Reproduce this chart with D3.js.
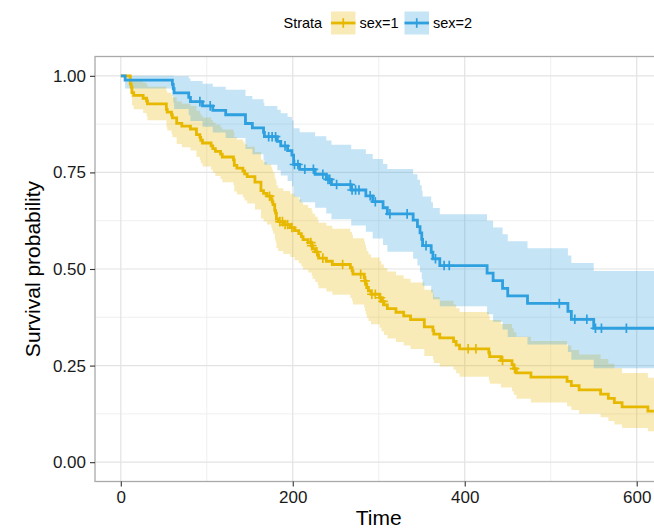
<!DOCTYPE html>
<html>
<head>
<meta charset="utf-8">
<script src="https://cdn.jsdelivr.net/npm/d3@7"></script>
<style>
  html, body { margin: 0; padding: 0; background: #ffffff; }
  svg { display: block; }
  text { font-family: "Liberation Sans", Arial, Helvetica, sans-serif; }
</style>
</head>
<body>
<div id="chart"></div>
<script>
// Kaplan-Meier estimates by sex (time in days), with 95% confidence limits
const maleTime = [0, 11, 12, 13, 15, 26, 30, 31, 53, 54, 59, 60, 65, 71, 81, 88, 92, 93, 95, 105,
  107, 110, 116, 118, 131, 132, 135, 142, 144, 147, 156, 163, 166, 170, 175, 176, 177, 179, 180, 181,
  183, 189, 197, 202, 207, 210, 212, 218, 222, 223, 226, 229, 230, 239, 246, 267, 269, 270, 283, 284,
  285, 286, 288, 291, 301, 303, 306, 310, 320, 329, 337, 353, 363, 364, 371, 387, 390, 394, 428, 429,
  442, 455, 457, 460, 477, 519, 524, 533, 558, 567, 574, 583, 613, 624];
const maleSurv = [1, .9783, .9710, .9565, .9493, .9420, .9348, .9275, .9130, .9058, .8986, .8913, .8768, .8696, .8623, .8478, .8406, .8333, .8261, .8188,
  .8116, .8043, .7971, .7899, .7826, .7681, .7609, .7536, .7464, .7391, .7246, .7029, .6957, .6884, .6811, .6738, .6664, .6518, .6445, .6298,
  .6225, .6150, .6073, .5995, .5917, .5840, .5762, .5684, .5605, .5525, .5445, .5364, .5282, .5200, .5117, .5033, .4949, .4865, .4780, .4695,
  .4608, .4521, .4434, .4347, .4256, .4164, .4069, .3975, .3880, .3785, .3691, .3501, .3407, .3312, .3218, .3123, .3028, .2934, .2833, .2732,
  .2630, .2525, .2420, .2310, .2200, .2090, .1980, .1870, .1760, .1650, .1540, .1430, .1320, .1210];
const maleLower = [1, .9542, .9434, .9231, .9134, .9038, .8945, .8853, .8672, .8583, .8496, .8408, .8236, .8152, .8067, .7900, .7817, .7734, .7652, .7570,
  .7489, .7408, .7328, .7247, .7167, .7008, .6929, .6851, .6772, .6694, .6538, .6306, .6230, .6153, .6076, .5999, .5922, .5769, .5693, .5541,
  .5466, .5388, .5309, .5228, .5148, .5068, .4989, .4909, .4829, .4747, .4666, .4583, .4501, .4418, .4335, .4250, .4166, .4082, .3997, .3912,
  .3826, .3740, .3654, .3569, .3479, .3388, .3295, .3202, .3110, .3019, .2927, .2746, .2656, .2567, .2478, .2390, .2302, .2214, .2120, .2027,
  .1935, .1838, .1743, .1643, .1544, .1447, .1350, .1255, .1161, .1068, .0976, .0886, .0798, .0711];
const maleUpper = [1, 1, .9994, .9912, .9866, .9818, .9769, .9718, .9613, .9559, .9504, .9448, .9334, .9276, .9218, .9099, .9039, .8979, .8918, .8857,
  .8795, .8733, .8671, .8608, .8545, .8419, .8355, .8291, .8226, .8162, .8031, .7834, .7768, .7702, .7635, .7567, .7500, .7364, .7296, .7159,
  .7090, .7020, .6948, .6875, .6802, .6728, .6655, .6581, .6506, .6430, .6354, .6276, .6199, .6120, .6041, .5960, .5880, .5799, .5716, .5634,
  .5550, .5465, .5380, .5295, .5207, .5117, .5025, .4933, .4840, .4747, .4653, .4464, .4369, .4274, .4178, .4081, .3984, .3887, .3784, .3681,
  .3576, .3469, .3360, .3248, .3134, .3019, .2903, .2787, .2668, .2549, .2429, .2307, .2183, .2058];
const maleCensor = [173, 185, 188, 191, 194, 199, 221, 222, 228, 235, 258, 279, 284, 292, 296, 302, 305, 404, 413, 444, 458];

const femaleTime = [0, 5, 60, 61, 62, 79, 81, 95, 107, 122, 145, 153, 166, 167, 182, 186, 194, 199, 201, 208,
  226, 239, 245, 268, 285, 293, 305, 310, 340, 345, 348, 350, 351, 361, 363, 371, 426, 433, 444, 450,
  473, 520, 524, 550];
const femaleSurv = [1, .9889, .9778, .9667, .9556, .9444, .9333, .9221, .9107, .8993, .8766, .8652, .8538, .8424, .8305, .8187, .8066, .7946, .7705, .7581,
  .7452, .7321, .7186, .7045, .6895, .6742, .6585, .6428, .6264, .6099, .5934, .5769, .5604, .5434, .5265, .5089, .4893, .4697, .4501, .4305,
  .4109, .3904, .3698, .3467];
const femaleLower = [1, .9675, .9478, .9303, .9140, .8982, .8832, .8683, .8535, .8390, .8109, .7970, .7834, .7699, .7558, .7420, .7280, .7142, .6869, .6729,
  .6584, .6438, .6287, .6129, .5961, .5791, .5618, .5446, .5267, .5089, .4913, .4738, .4566, .4389, .4215, .4035, .3832, .3632, .3434, .3240,
  .3049, .2849, .2653, .2430];
const femaleUpper = [1, 1, 1, 1, .9991, .9929, .9863, .9792, .9717, .9639, .9477, .9392, .9305, .9217, .9125, .9033, .8937, .8841, .8643, .8541,
  .8434, .8326, .8214, .8098, .7975, .7849, .7719, .7587, .7450, .7310, .7168, .7024, .6878, .6727, .6576, .6419, .6248, .6075, .5899, .5720,
  .5538, .5349, .5155, .4947];
const femaleCensor = [92, 104, 172, 176, 180, 191, 202, 206, 214, 224, 235, 241, 243, 251, 267, 269, 273, 277, 290, 296,
  313, 333, 355, 366, 376, 382, 510, 528, 542, 552, 559, 588];

const strataLabels = ["sex=1", "sex=2"];
const strataColors = ["#E7B800", "#2E9FDF"];
const xTicks = [0, 200, 400, 600];
const xMinor = [100, 300, 500];
const yTicks = [0, 0.25, 0.5, 0.75, 1];
const yMinor = [0.125, 0.375, 0.625, 0.875];
const fmt = d3.format(".2f");

const strata = [
  { label: strataLabels[0], color: strataColors[0], time: maleTime, surv: maleSurv, lower: maleLower, upper: maleUpper, censor: maleCensor },
  { label: strataLabels[1], color: strataColors[1], time: femaleTime, surv: femaleSurv, lower: femaleLower, upper: femaleUpper, censor: femaleCensor }
];

const W = 654, H = 529;
const panel = { left: 95, right: 662.5, top: 56.5, bottom: 481.5 };

const x = d3.scaleLinear().domain([-30, 630]).range([panel.left, panel.right]);
const y = d3.scaleLinear().domain([-0.05, 1.05]).range([panel.bottom, panel.top]);

const svg = d3.select("#chart").append("svg")
  .attr("width", W).attr("height", H)
  .attr("viewBox", `0 0 ${W} ${H}`);

svg.append("defs").append("clipPath").attr("id", "panel-clip")
  .append("rect")
  .attr("x", panel.left).attr("y", panel.top)
  .attr("width", panel.right - panel.left).attr("height", panel.bottom - panel.top);

// grid
const grid = svg.append("g");
grid.selectAll(".vminor").data(xMinor).join("line")
  .attr("x1", d => x(d)).attr("x2", d => x(d))
  .attr("y1", panel.top).attr("y2", panel.bottom)
  .attr("stroke", "#EDEDED").attr("stroke-width", 0.9);
grid.selectAll(".hminor").data(yMinor).join("line")
  .attr("y1", d => y(d)).attr("y2", d => y(d))
  .attr("x1", panel.left).attr("x2", panel.right)
  .attr("stroke", "#EDEDED").attr("stroke-width", 0.9);
grid.selectAll(".vmajor").data(xTicks).join("line")
  .attr("x1", d => x(d)).attr("x2", d => x(d))
  .attr("y1", panel.top).attr("y2", panel.bottom)
  .attr("stroke", "#E3E3E3").attr("stroke-width", 1.2);
grid.selectAll(".hmajor").data(yTicks).join("line")
  .attr("y1", d => y(d)).attr("y2", d => y(d))
  .attr("x1", panel.left).attr("x2", panel.right)
  .attr("stroke", "#E3E3E3").attr("stroke-width", 1.2);

const plot = svg.append("g").attr("clip-path", "url(#panel-clip)");
const tEnd = x.domain()[1];

function rows(s) {
  const r = s.time.map((t, i) => ({ t, s: s.surv[i], lo: s.lower[i], hi: s.upper[i] }));
  const last = r[r.length - 1];
  r.push({ t: tEnd, s: last.s, lo: last.lo, hi: last.hi });
  return r;
}

const band = d3.area().curve(d3.curveStepAfter)
  .x(d => x(d.t)).y0(d => y(d.lo)).y1(d => y(d.hi));
const step = d3.line().curve(d3.curveStepAfter)
  .x(d => x(d.t)).y(d => y(d.s));

// confidence bands
strata.forEach(s => {
  plot.append("path").datum(rows(s))
    .attr("d", band)
    .attr("fill", s.color).attr("fill-opacity", 0.28).attr("stroke", "none");
});

// survival curves
strata.forEach(s => {
  plot.append("path").datum(rows(s))
    .attr("d", step)
    .attr("fill", "none").attr("stroke", s.color)
    .attr("stroke-width", 2.8).attr("stroke-linejoin", "miter");
});

// censoring marks
const mark = 4.8;
strata.forEach(s => {
  const bis = d3.bisector(d => d).right;
  const pts = s.censor.map(t => ({ t, v: s.surv[bis(s.time, t) - 1] }));
  plot.append("g").selectAll("path").data(pts).join("path")
    .attr("d", d => {
      const cx = x(d.t), cy = y(d.v);
      return `M${cx - mark},${cy}H${cx + mark}M${cx},${cy - mark}V${cy + mark}`;
    })
    .attr("stroke", s.color).attr("stroke-width", 1.7).attr("fill", "none");
});

// panel border
svg.append("rect")
  .attr("x", panel.left).attr("y", panel.top)
  .attr("width", panel.right - panel.left).attr("height", panel.bottom - panel.top)
  .attr("fill", "none").attr("stroke", "#A9A9A9").attr("stroke-width", 1.3);

// axes
const xAxis = svg.append("g").attr("transform", `translate(0,${panel.bottom})`)
  .call(d3.axisBottom(x).tickValues(xTicks).tickSize(5).tickPadding(4));
const yAxis = svg.append("g").attr("transform", `translate(${panel.left},0)`)
  .call(d3.axisLeft(y).tickValues(yTicks).tickFormat(fmt).tickSize(5).tickPadding(4));
[xAxis, yAxis].forEach(a => {
  a.select(".domain").remove();
  a.selectAll(".tick line").attr("stroke", "#333333").attr("stroke-width", 1.1);
  a.selectAll(".tick text").attr("fill", "#1a1a1a").style("font-size", "17px")
    .style("font-family", '"Liberation Sans", Arial, Helvetica, sans-serif');
});

svg.append("text")
  .attr("x", (panel.left + panel.right) / 2).attr("y", 525)
  .attr("text-anchor", "middle").attr("fill", "#000")
  .style("font-size", "21px").text("Time");

svg.append("text")
  .attr("transform", `translate(40,${(panel.top + panel.bottom) / 2}) rotate(-90)`)
  .attr("text-anchor", "middle").attr("fill", "#000")
  .style("font-size", "21px").text("Survival probability");

// legend
const legend = svg.append("g");
const legendY = 23;
legend.append("text").attr("x", 283.5).attr("y", legendY + 5)
  .attr("fill", "#000").style("font-size", "14.5px").text("Strata");
const keyX = [331, 404.5];
strata.forEach((s, i) => {
  const g = legend.append("g").attr("transform", `translate(${keyX[i]},${legendY})`);
  g.append("rect").attr("x", 0).attr("y", -11.5).attr("width", 24.5).attr("height", 23)
    .attr("fill", s.color).attr("fill-opacity", 0.28);
  g.append("line").attr("x1", 0).attr("x2", 24.5).attr("y1", 0).attr("y2", 0)
    .attr("stroke", s.color).attr("stroke-width", 2.8);
  g.append("path").attr("d", `M12.25,${-mark}V${mark}`)
    .attr("stroke", s.color).attr("stroke-width", 1.7);
  g.append("text").attr("x", 28.5).attr("y", 5)
    .attr("fill", "#000").style("font-size", "14.5px").text(s.label);
});
</script>
</body>
</html>
